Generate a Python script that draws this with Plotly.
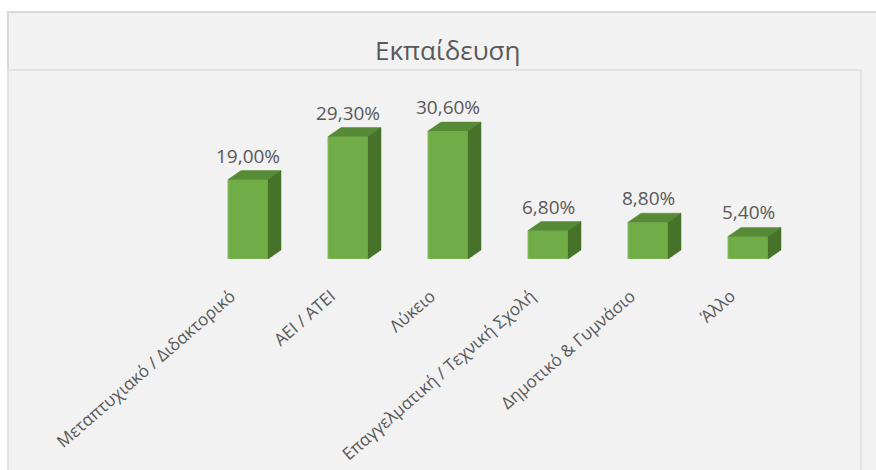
import plotly.graph_objects as go

# Education level distribution (percent)
categories = [
    "Μεταπτυχιακό / Διδακτορικό",
    "ΑΕΙ / ΑΤΕΙ",
    "Λύκειο",
    "Επαγγελματική / Τεχνική Σχολή",
    "Δημοτικό & Γυμνάσιο",
    "Άλλο",
]
values = [19.0, 29.3, 30.6, 6.8, 8.8, 5.4]
title_text = "Εκπαίδευση"

# Canvas / axis geometry in pixels
W, H = 876, 470
M_L, M_R, M_T, M_B = 8, 15, 70, 211
plot_w = W - M_L - M_R
plot_h = H - M_T - M_B
px_per_cat = 100.0
px_per_pct = 4.18
x_min = -2.4
x_max = x_min + plot_w / px_per_cat
y_max = plot_h / px_per_pct

bar_w = 0.4
depth_x = 13 / px_per_cat   # 3D depth offset, horizontal
depth_y = 9 / px_per_pct    # 3D depth offset, vertical

FRONT = "#70AD47"
TOP = "#578a37"
SIDE = "#46722a"
TEXT = "#595959"
FONT = "Open Sans"

xs = list(range(len(categories)))

fig = go.Figure()

# front faces
fig.add_trace(go.Bar(
    x=xs, y=values, width=bar_w,
    marker=dict(color=FRONT, line=dict(color="#86bd62", width=1)),
    hoverinfo="skip", showlegend=False,
))

# top and side faces of the 3D boxes, built from the same values
top_x, top_y, side_x, side_y = [], [], [], []
for x, v in zip(xs, values):
    l, r = x - bar_w / 2, x + bar_w / 2
    top_x += [l, l + depth_x, r + depth_x, r, l, None]
    top_y += [v, v + depth_y, v + depth_y, v, v, None]
    side_x += [r, r, r + depth_x, r + depth_x, r, None]
    side_y += [0, v, v + depth_y, depth_y, 0, None]

fig.add_trace(go.Scatter(
    x=top_x, y=top_y, mode="lines", fill="toself", fillcolor=TOP,
    line=dict(color=TOP, width=0.5), hoverinfo="skip", showlegend=False,
))
fig.add_trace(go.Scatter(
    x=side_x, y=side_y, mode="lines", fill="toself", fillcolor=SIDE,
    line=dict(color=SIDE, width=0.5), hoverinfo="skip", showlegend=False,
))

# value labels
for x, v in zip(xs, values):
    fig.add_annotation(
        x=x, y=v, xref="x", yref="y",
        text=f"{v:.2f}".replace(".", ",") + "%",
        showarrow=False, yanchor="bottom", yshift=9,
        font=dict(family=FONT, size=19, color=TEXT),
    )

# chart title
fig.add_annotation(
    x=(448 - M_L) / plot_w, y=(M_T + plot_h - 50) / plot_h,
    xref="paper", yref="paper", text=title_text, showarrow=False,
    xanchor="center", yanchor="middle",
    font=dict(family=FONT, size=26, color=TEXT),
)

def px_to_paper_x(px):
    return (px - M_L) / plot_w

def px_to_paper_y(py):
    return (M_T + plot_h - py) / plot_h

# chart area background with outer border
fig.add_shape(
    type="rect", xref="paper", yref="paper", layer="below",
    x0=px_to_paper_x(8), x1=px_to_paper_x(920),
    y0=px_to_paper_y(520), y1=px_to_paper_y(12),
    fillcolor="#f2f2f2", line=dict(color="#d9d9d9", width=2),
)
# plot area border
fig.add_shape(
    type="rect", xref="paper", yref="paper", layer="below",
    x0=px_to_paper_x(8), x1=px_to_paper_x(861),
    y0=px_to_paper_y(520), y1=px_to_paper_y(70),
    fillcolor="rgba(0,0,0,0)", line=dict(color="#e2e2e2", width=2),
)

fig.update_layout(
    width=W, height=H,
    margin=dict(l=M_L, r=M_R, t=M_T, b=M_B, autoexpand=False),
    paper_bgcolor="white", plot_bgcolor="rgba(0,0,0,0)",
    showlegend=False,
    xaxis=dict(
        range=[x_min, x_max], tickvals=xs, ticktext=categories,
        tickangle=-41, ticks="", showgrid=False, zeroline=False,
        showline=False, tickfont=dict(family=FONT, size=17, color=TEXT),
        ticklabelstandoff=23, ticklabelshift=-17,
        fixedrange=True,
    ),
    yaxis=dict(
        range=[0, y_max], showticklabels=False, ticks="", showgrid=False,
        zeroline=False, showline=False, fixedrange=True,
    ),
)

fig.write_html("out.html")
